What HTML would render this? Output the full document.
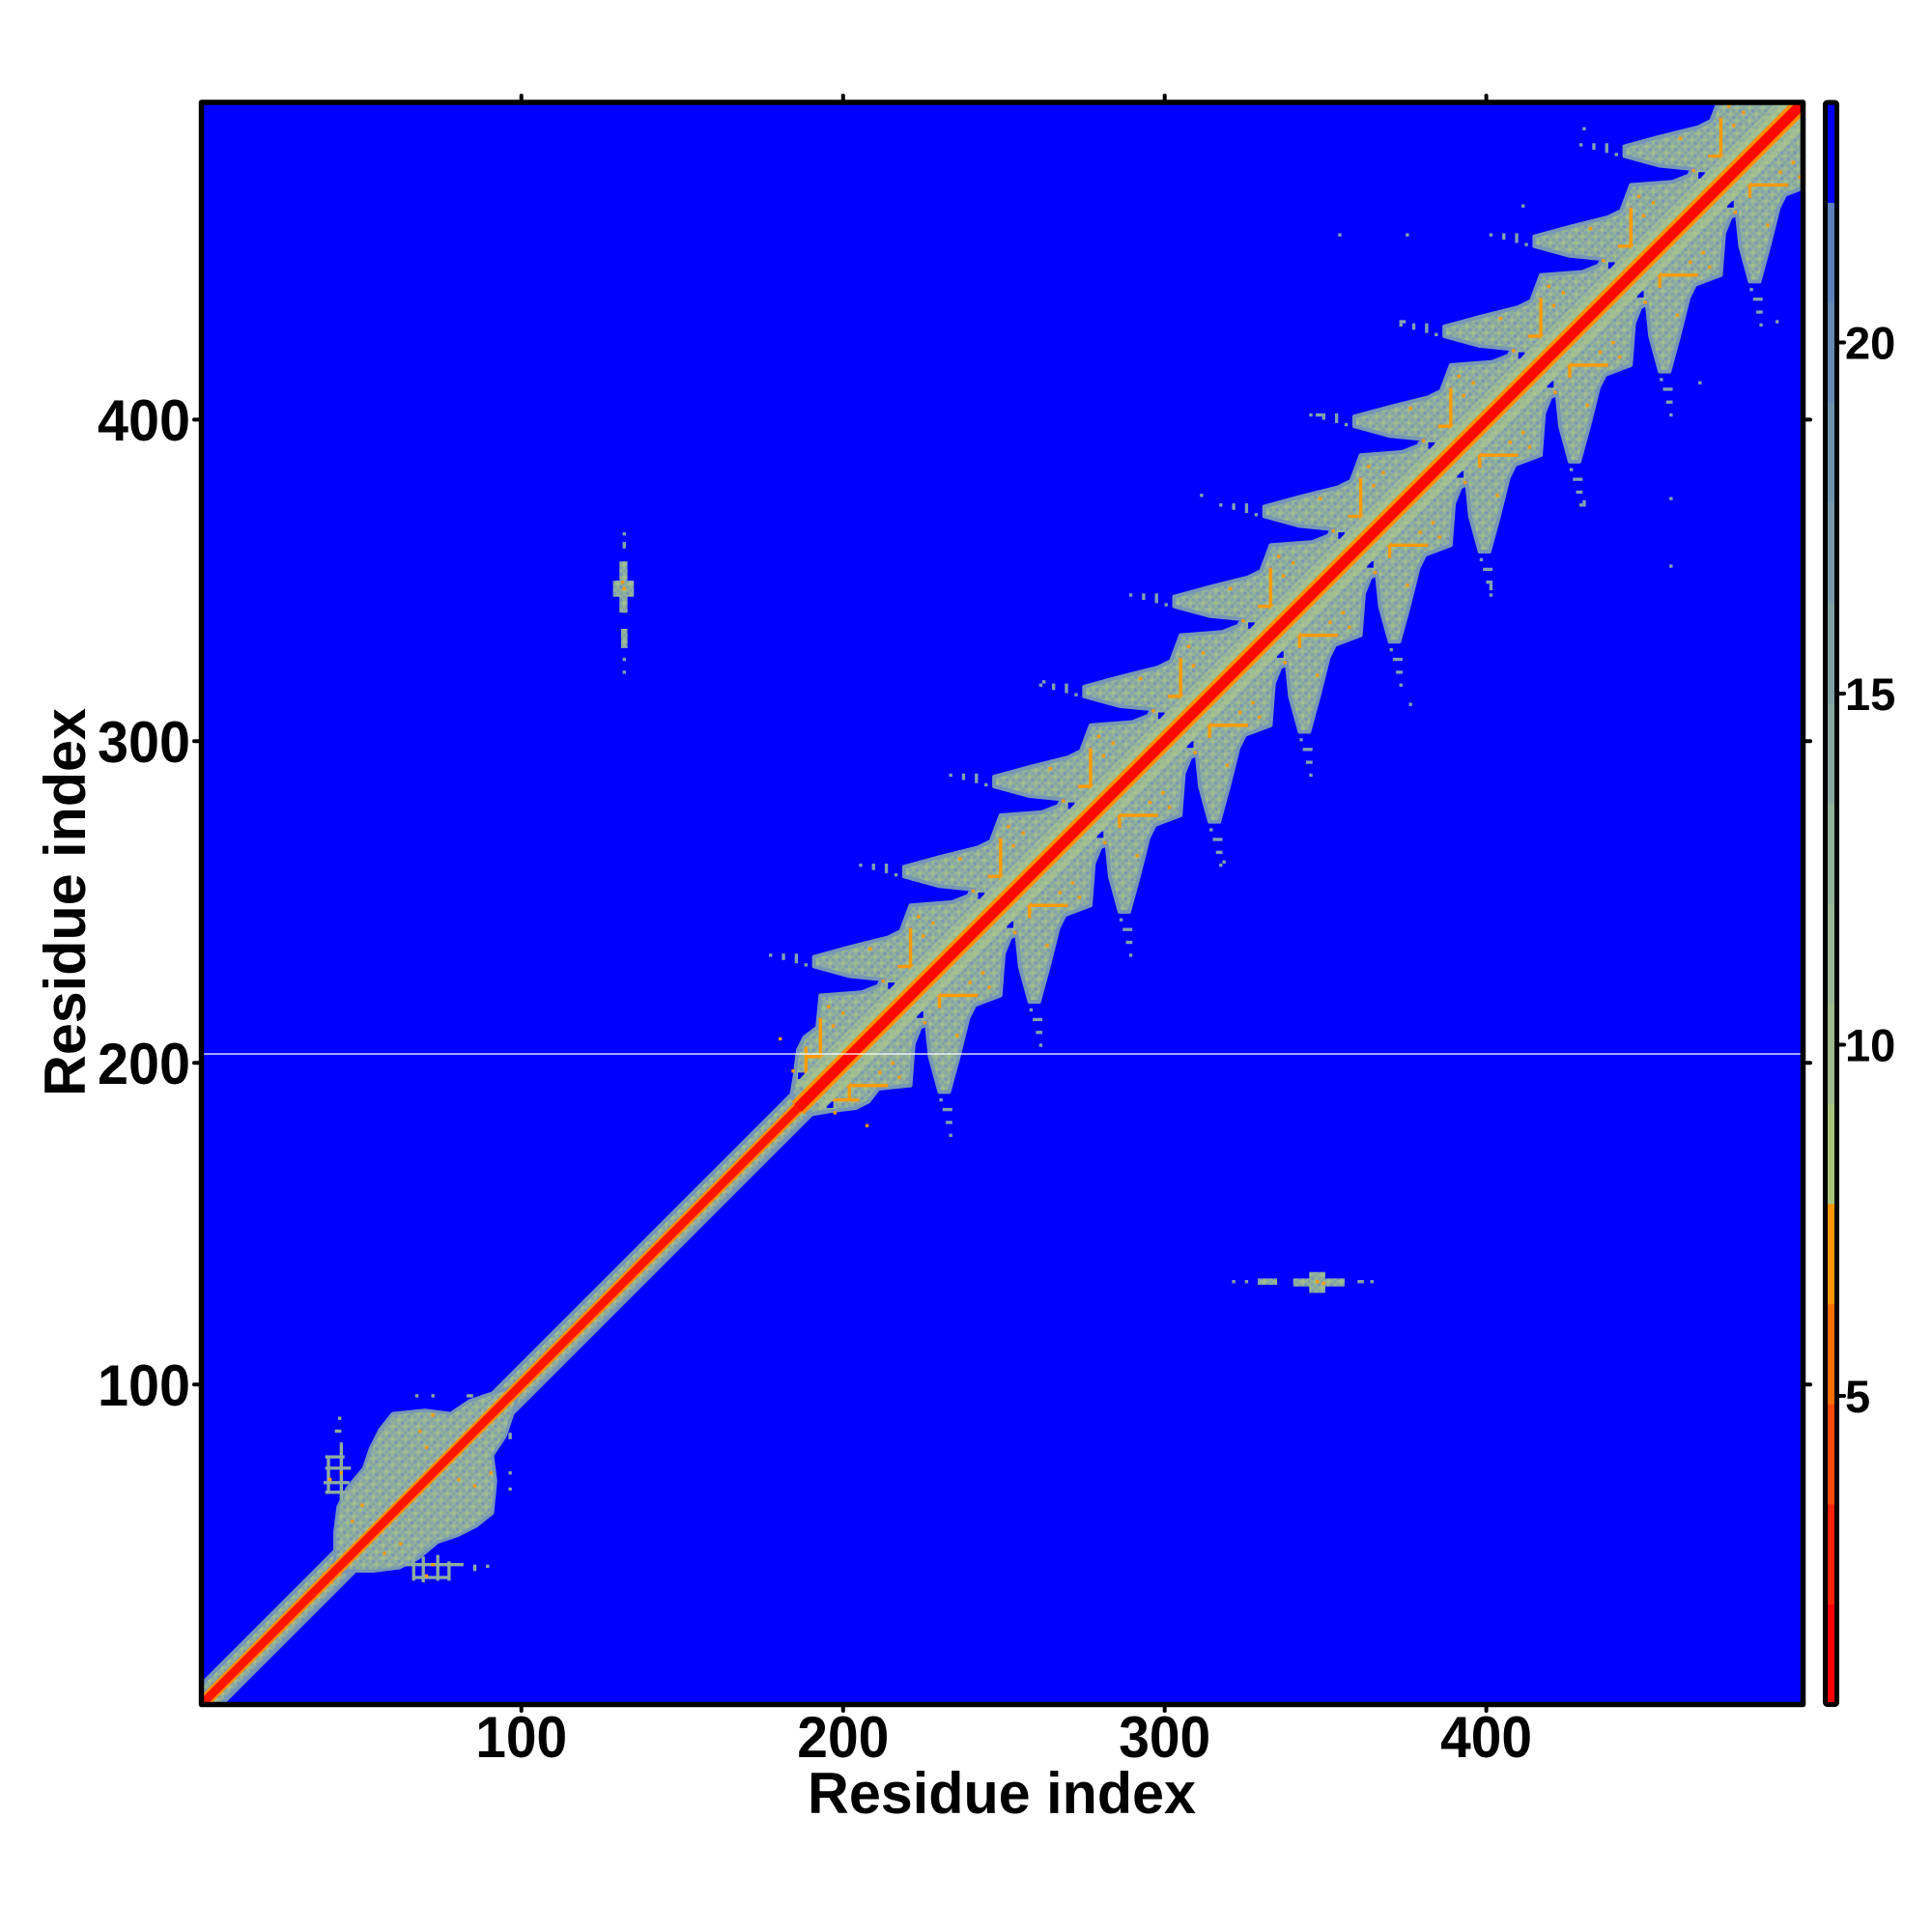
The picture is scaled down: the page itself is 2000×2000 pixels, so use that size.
<!DOCTYPE html>
<html>
<head>
<meta charset="utf-8">
<style>
html,body{margin:0;padding:0;background:#ffffff;}
svg{display:block;}
text{font-family:"Liberation Sans",Arial,sans-serif;font-weight:bold;fill:#000;}
</style>
</head>
<body>
<svg width="2000" height="2000" viewBox="0 0 2000 2000">
<defs>
  <clipPath id="clip"><rect x="208.5" y="106" width="1658" height="1658.5"/></clipPath>
  <pattern id="tex" patternUnits="userSpaceOnUse" x="-0.5" y="-0.5" width="4" height="4">
    <rect width="4" height="4" fill="#94b398"/>
    <rect x="1" y="0" width="1" height="1" fill="#84a5a8"/>
    <rect x="3" y="0" width="1" height="1" fill="#a3c08f"/>
    <rect x="0" y="1" width="1" height="1" fill="#84a5a8"/>
    <rect x="2" y="1" width="1" height="1" fill="#7898b5"/>
    <rect x="1" y="2" width="1" height="1" fill="#a3c08f"/>
    <rect x="3" y="2" width="1" height="1" fill="#84a5a8"/>
    <rect x="0" y="3" width="1" height="1" fill="#7898b5"/>
    <rect x="2" y="3" width="1" height="1" fill="#84a5a8"/>
  </pattern>
  <pattern id="tex2" patternUnits="userSpaceOnUse" x="-0.5" y="-0.5" width="4" height="4">
    <rect width="4" height="4" fill="#a0bd93"/>
    <rect x="1" y="0" width="1" height="1" fill="#92b29c"/>
    <rect x="3" y="0" width="1" height="1" fill="#abc68c"/>
    <rect x="2" y="1" width="1" height="1" fill="#8cacA2"/>
    <rect x="1" y="2" width="1" height="1" fill="#abc68c"/>
    <rect x="0" y="3" width="1" height="1" fill="#8cacA2"/>
    <rect x="3" y="3" width="1" height="1" fill="#92b29c"/>
  </pattern>
  <g id="repo">
    <g fill="#ff9a00">
      <rect x="-2.5" y="-15" width="1" height="8"/>
      <rect x="-3" y="-11.5" width="13" height="1"/>
      <rect x="7" y="-7.5" width="1" height="1"/>
      <rect x="11" y="-4.5" width="1" height="1"/>
      <rect x="-7" y="-20" width="1" height="1"/>
      <rect x="3" y="-24" width="1" height="1"/>
      <rect x="-6" y="-6" width="1" height="1"/>
      <rect x="4" y="-3" width="1" height="1"/>
      <rect x="13" y="-9" width="1" height="1"/>
    </g>
    <rect x="-9" y="-18" width="2" height="2" fill="#0000ff"/>
  </g>
  <g id="repd" fill="#82a3ae">
    <rect x="-1" y="-47" width="3" height="1"/>
    <rect x="0" y="-51" width="2" height="1"/>
    <rect x="-2" y="-44" width="1" height="1"/>
    <rect x="1" y="-55" width="1" height="1"/>
  </g>
</defs>

<rect x="0" y="0" width="2000" height="2000" fill="#ffffff"/>

<g clip-path="url(#clip)">
  <rect x="200" y="100" width="1680" height="1680" fill="#0000ff"/>
  <g transform="translate(208.5,1764.5) scale(3.329,-3.329) translate(-0.5,-0.5)">
    <!-- diagonal base band -->
    <line x1="-5" y1="-5" x2="505" y2="505" stroke="#7393bb" stroke-width="10"/>
    <line x1="-5" y1="-5" x2="505" y2="505" stroke="url(#tex)" stroke-width="7.6"/>

    <g id="half">
      <!-- fan structure (below diagonal) -->
      <polygon fill="url(#tex)" stroke="#7797b6" stroke-width="1.2" stroke-linejoin="round" points="186,186 190,184 196,185 204,186 208,188 211,192 221,193 222,206 224,211
226,212 227,202 230,191 233,191 236,202 239,214 241,218 249,221 250,234 252,239
254,240 255,230 258,219 261,219 264,230 267,242 269,246 277,249 278,262 280,267
282,268 283,258 286,247 289,247 292,258 295,270 297,274 305,277 306,290 308,295
310,296 311,286 314,275 317,275 320,286 323,298 325,302 333,305 334,318 336,323
338,324 339,314 342,303 345,303 348,314 351,326 353,330 361,333 362,346 364,351
366,352 367,342 370,331 373,331 376,342 379,354 381,358 389,361 390,374 392,379
394,380 395,370 398,359 401,359 404,370 407,382 409,386 417,389 418,402 420,407
422,408 423,398 426,387 429,387 432,398 435,410 437,414 445,417 446,430 448,435
450,436 451,426 454,415 457,415 460,426 463,438 465,442 473,445 474,458 476,463
478,464 479,454 482,443 485,443 488,454 491,466 493,470 501,473 505,480 505,505"/>
      <!-- low-index blob -->
      <polygon fill="url(#tex)" stroke="#7797b6" stroke-width="1" stroke-linejoin="round" points="40,40 46,42 54,42 62,43 68,46 74,51 80,53 86,56 91,60 92,70 91,78 95,84 97,90 100,100"/>
      <g fill="#8fae9e">
        <rect x="64" y="43.5" width="18" height="1"/>
        <rect x="66" y="39.5" width="12" height="1"/>
        <rect x="66" y="39" width="1" height="8"/>
        <rect x="69" y="38.5" width="1" height="8"/>
        <rect x="73.5" y="39" width="1" height="8"/>
        <rect x="77" y="39" width="1" height="6"/>
        <rect x="85" y="42" width="1" height="2"/>
        <rect x="89" y="43" width="1" height="1"/>
        <rect x="96" y="67" width="1" height="1"/>
        <rect x="96" y="72" width="1" height="1"/>
        <rect x="96" y="83" width="1" height="2"/>
      </g>
      <g fill="#ff9a00">
        <rect x="39" y="40.5" width="5" height="1"/>
        <rect x="40.5" y="38" width="1" height="5"/>
        <rect x="80" y="70" width="1" height="1"/>
        <rect x="85" y="68" width="1" height="1"/>
        <rect x="62" y="50" width="1" height="1"/>
        <rect x="57" y="47" width="1" height="1"/>
        <rect x="90" y="72" width="1" height="1"/>
        <rect x="72" y="43.5" width="1" height="1"/>
        <rect x="70" y="40" width="1" height="1"/>
        <rect x="194" y="190" width="1" height="6"/>
        <rect x="196" y="188" width="9" height="1"/>
      </g>
      <!-- isolated off-diagonal contacts -->
      <g fill="url(#tex)">
        <rect x="340" y="130.5" width="16" height="2.5"/>
        <rect x="345" y="128.5" width="5" height="6.5"/>
        <rect x="329" y="131" width="6" height="2"/>
      </g>
      <g fill="#86a6aa">
        <rect x="321" y="131.5" width="1" height="1"/>
        <rect x="325" y="131.5" width="1" height="1"/>
        <rect x="360" y="131.5" width="2" height="1"/>
        <rect x="364" y="131.5" width="1" height="1"/>
        <rect x="457" y="375" width="1" height="1"/>
        <rect x="457" y="354" width="1" height="1"/>
        <rect x="401" y="347" width="1" height="2"/>
        <rect x="430" y="373" width="1" height="2"/>
        <rect x="466" y="411" width="1" height="1"/>
        <rect x="376" y="311" width="1" height="1"/>
        <rect x="290" y="255" width="1" height="1"/>
        <rect x="318" y="262" width="1" height="1"/>
        <rect x="490" y="430" width="1" height="1"/>
      </g>
      <g fill="#ff9a00">
        <rect x="347" y="131.5" width="1" height="1"/>
        <rect x="349" y="131" width="1" height="1"/>
      </g>
      <use href="#repo" x="204" y="204"/>
      <use href="#repo" x="232" y="232"/>
      <use href="#repo" x="260" y="260"/>
      <use href="#repo" x="288" y="288"/>
      <use href="#repo" x="316" y="316"/>
      <use href="#repo" x="344" y="344"/>
      <use href="#repo" x="372" y="372"/>
      <use href="#repo" x="400" y="400"/>
      <use href="#repo" x="428" y="428"/>
      <use href="#repo" x="456" y="456"/>
      <use href="#repo" x="484" y="484"/>
      <use href="#repd" x="232" y="232"/>
      <use href="#repd" x="260" y="260"/>
      <use href="#repd" x="288" y="288"/>
      <use href="#repd" x="316" y="316"/>
      <use href="#repd" x="344" y="344"/>
      <use href="#repd" x="372" y="372"/>
      <use href="#repd" x="400" y="400"/>
      <use href="#repd" x="428" y="428"/>
      <use href="#repd" x="456" y="456"/>
      <use href="#repd" x="484" y="484"/>
    </g>
    <use href="#half" transform="matrix(0,1,1,0,0,0)"/>

    <!-- lighter green near diagonal in helical region -->
    <line x1="190" y1="190" x2="505" y2="505" stroke="url(#tex2)" stroke-width="12"/>

    <!-- diagonal orange/red -->
    <line x1="-5" y1="-5" x2="190" y2="190" stroke="#ff9000" stroke-width="4"/>
    <line x1="186" y1="186" x2="505" y2="505" stroke="#ff9000" stroke-width="5.4"/>
    <line x1="-5" y1="-5" x2="190" y2="190" stroke="#ff1500" stroke-width="2.6"/>
    <line x1="186" y1="186" x2="505" y2="505" stroke="#ff0800" stroke-width="3.3"/>
  </g>
  <!-- white gap row -->
  <rect x="208" y="1090.4" width="1660" height="1.3" fill="#ffffff"/>
</g>

<!-- plot frame -->
<rect x="208.5" y="106" width="1658" height="1658.5" fill="none" stroke="#000" stroke-width="5.5" stroke-linejoin="round"/>

<!-- ticks -->
<g stroke="#000" stroke-width="4" stroke-linecap="round">
  <line x1="201" y1="434.4" x2="208" y2="434.4"/>
  <line x1="201" y1="767.3" x2="208" y2="767.3"/>
  <line x1="201" y1="1100.2" x2="208" y2="1100.2"/>
  <line x1="201" y1="1433.3" x2="208" y2="1433.3"/>
  <line x1="1867" y1="434.4" x2="1874" y2="434.4"/>
  <line x1="1867" y1="767.3" x2="1874" y2="767.3"/>
  <line x1="1867" y1="1100.2" x2="1874" y2="1100.2"/>
  <line x1="1867" y1="1433.3" x2="1874" y2="1433.3"/>
  <line x1="539.7" y1="99" x2="539.7" y2="106"/>
  <line x1="872.8" y1="99" x2="872.8" y2="106"/>
  <line x1="1205.7" y1="99" x2="1205.7" y2="106"/>
  <line x1="1538.6" y1="99" x2="1538.6" y2="106"/>
  <line x1="539.7" y1="1765" x2="539.7" y2="1771"/>
  <line x1="872.8" y1="1765" x2="872.8" y2="1771"/>
  <line x1="1205.7" y1="1765" x2="1205.7" y2="1771"/>
  <line x1="1538.6" y1="1765" x2="1538.6" y2="1771"/>
  <line x1="1904" y1="354.5" x2="1909" y2="354.5"/>
  <line x1="1904" y1="718" x2="1909" y2="718"/>
  <line x1="1904" y1="1081.5" x2="1909" y2="1081.5"/>
  <line x1="1904" y1="1445" x2="1909" y2="1445"/>
</g>

<!-- y tick labels -->
<g font-size="60" text-anchor="end">
  <text x="197" y="456" textLength="96" lengthAdjust="spacingAndGlyphs">400</text>
  <text x="197" y="789" textLength="96" lengthAdjust="spacingAndGlyphs">300</text>
  <text x="197" y="1122" textLength="96" lengthAdjust="spacingAndGlyphs">200</text>
  <text x="197" y="1455" textLength="96" lengthAdjust="spacingAndGlyphs">100</text>
</g>
<!-- x tick labels -->
<g font-size="60" text-anchor="middle">
  <text x="539.7" y="1819" textLength="95" lengthAdjust="spacingAndGlyphs">100</text>
  <text x="872.8" y="1819" textLength="95" lengthAdjust="spacingAndGlyphs">200</text>
  <text x="1205.7" y="1819" textLength="95" lengthAdjust="spacingAndGlyphs">300</text>
  <text x="1538.6" y="1819" textLength="95" lengthAdjust="spacingAndGlyphs">400</text>
</g>

<!-- axis titles -->
<text x="1037" y="1877" font-size="60" text-anchor="middle" textLength="402" lengthAdjust="spacingAndGlyphs">Residue index</text>
<text transform="translate(88,934) rotate(-90)" font-size="60" text-anchor="middle" textLength="402" lengthAdjust="spacingAndGlyphs">Residue index</text>

<!-- colorbar -->
<g>
  <rect x="1889.5" y="1660.8" width="12" height="104" fill="#ff0000"/>
  <rect x="1889.5" y="1557.2" width="12" height="104" fill="#ff2200"/>
  <rect x="1889.5" y="1453.5" width="12" height="104" fill="#ff4a00"/>
  <rect x="1889.5" y="1349.9" width="12" height="104" fill="#ff6e00"/>
  <rect x="1889.5" y="1246.2" width="12" height="104" fill="#ff9500"/>
  <rect x="1889.5" y="1142.5" width="12" height="104" fill="#a8c47c"/>
  <rect x="1889.5" y="1038.9" width="12" height="104" fill="#9fbb8d"/>
  <rect x="1889.5" y="935.2" width="12" height="104" fill="#99b794"/>
  <rect x="1889.5" y="831.6" width="12" height="104" fill="#92b19a"/>
  <rect x="1889.5" y="727.9" width="12" height="104" fill="#88a89f"/>
  <rect x="1889.5" y="624.3" width="12" height="104" fill="#7fa0a3"/>
  <rect x="1889.5" y="520.6" width="12" height="104" fill="#7899a7"/>
  <rect x="1889.5" y="416.9" width="12" height="104" fill="#6f92ac"/>
  <rect x="1889.5" y="313.3" width="12" height="104" fill="#6689b3"/>
  <rect x="1889.5" y="209.6" width="12" height="104" fill="#5b80bb"/>
  <rect x="1889.5" y="106" width="12" height="104" fill="#0000ff"/>
  <rect x="1889.5" y="106" width="12" height="1658.5" fill="none" stroke="#000" stroke-width="5" rx="2"/>
</g>
<g font-size="47">
  <text x="1910" y="371.5">20</text>
  <text x="1910" y="735">15</text>
  <text x="1910" y="1098.5">10</text>
  <text x="1910" y="1462">5</text>
</g>
</svg>
</body>
</html>
